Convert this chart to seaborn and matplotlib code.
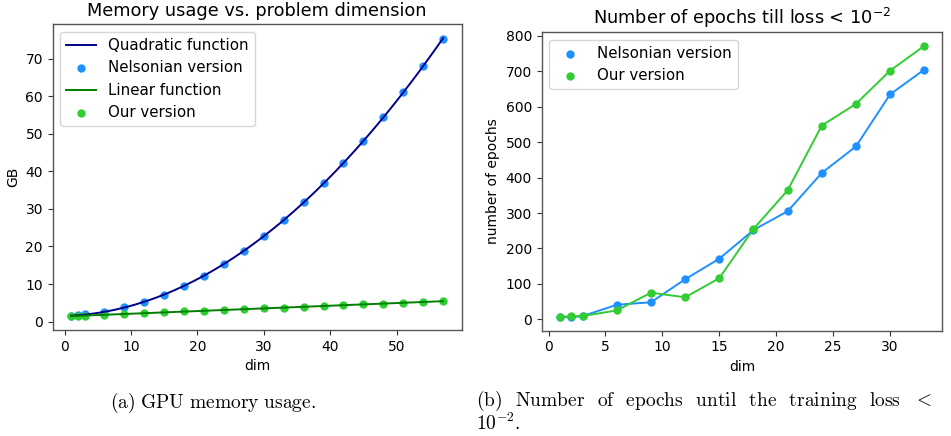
import numpy as np
import pandas as pd
import matplotlib
matplotlib.use("Agg")
import matplotlib.pyplot as plt
import seaborn as sns

# Datos
dims_mem = [1, 2, 3, 6, 9, 12, 15, 18, 21, 24, 27, 30, 33, 36, 39, 42, 45, 48, 51, 54, 57]
gb_nelson = [1.6, 1.7, 1.9, 2.6, 3.8, 5.3, 7.2, 9.5, 12.2, 15.3, 18.8, 22.7, 27.0, 31.7, 36.8, 42.3, 48.1, 54.4, 61.0, 67.9, 75.3]
gb_ours = [1.5, 1.5, 1.6, 1.8, 2.0, 2.3, 2.5, 2.7, 2.9, 3.1, 3.3, 3.5, 3.7, 3.9, 4.1, 4.4, 4.6, 4.8, 5.0, 5.2, 5.5]

dims_ep = [1, 2, 3, 6, 9, 12, 15, 18, 21, 24, 27, 30, 33]
ep_nelson = [7, 6, 9, 41, 48, 113, 171, 252, 305, 413, 488, 635, 705]
ep_ours = [6, 9, 9, 25, 75, 62, 116, 255, 364, 547, 608, 702, 772]

df_mem = pd.DataFrame({'dim': dims_mem, 'nelson': gb_nelson, 'ours': gb_ours})
df_ep = pd.DataFrame({'dim': dims_ep, 'nelson': ep_nelson, 'ours': ep_ours})

c_blue = '#1e90ff'
c_green = '#32cd32'

fig = plt.figure(figsize=(9.51, 4.36), dpi=100)
ax1 = fig.add_axes([0.0554, 0.2431, 0.4300, 0.7011])
ax2 = fig.add_axes([0.5696, 0.2415, 0.4214, 0.6844])

for ax in (ax1, ax2):
    for s in ax.spines.values():
        s.set_color('#555555')
        s.set_linewidth(1.0)
    ax.tick_params(labelsize=10, color='#333333')

# (a) memoria
sns.regplot(data=df_mem, x='dim', y='nelson', order=2, ci=None, scatter=False,
            ax=ax1, label='Quadratic function', line_kws={'color': 'darkblue', 'lw': 1.4})
sns.scatterplot(data=df_mem, x='dim', y='nelson', ax=ax1, color=c_blue, s=36,
                linewidth=0, label='Nelsonian version', zorder=1)
sns.regplot(data=df_mem, x='dim', y='ours', order=1, ci=None, scatter=False,
            ax=ax1, label='Linear function', line_kws={'color': 'green', 'lw': 1.4, 'zorder': 3})
sns.scatterplot(data=df_mem, x='dim', y='ours', ax=ax1, color=c_green, s=36,
                linewidth=0, label='Our version', zorder=1)
ax1.set_title('Memory usage vs. problem dimension', fontsize=12.8)
ax1.set_xlabel('dim', fontsize=10)
ax1.set_ylabel('GB', fontsize=10)
ax1.legend(loc='upper left', fontsize=10.8)

# (b) epocas
sns.lineplot(data=df_ep, x='dim', y='nelson', ax=ax2, color=c_blue, lw=1.4)
sns.lineplot(data=df_ep, x='dim', y='ours', ax=ax2, color=c_green, lw=1.4)
sns.scatterplot(data=df_ep, x='dim', y='nelson', ax=ax2, color=c_blue, s=36,
                linewidth=0, label='Nelsonian version', zorder=3)
sns.scatterplot(data=df_ep, x='dim', y='ours', ax=ax2, color=c_green, s=36,
                linewidth=0, label='Our version', zorder=3)
ax2.set_title(r'Number of epochs till loss < $10^{-2}$', fontsize=12.8)
ax2.set_xlabel('dim', fontsize=10)
ax2.set_ylabel('number of epochs', fontsize=10)
ax2.set_xticks([0, 5, 10, 15, 20, 25, 30])
ax2.legend(loc='upper left', fontsize=10.8)

# Leyendas tipo LaTeX (linea justificada: espacios mas anchos)
gap = r'\ \;\,'
words_b = ['(b)', 'Number', 'of', 'epochs', 'until', 'the', 'training', 'loss']
cap_b = r'$\mathrm{' + gap.join(words_b) + '}' + gap + '<$'
fig.text(0.224, 0.075, r'$\mathrm{(a)\ GPU\ memory\ usage.}$',
         math_fontfamily='cm', fontsize=14, ha='center', va='center')
fig.text(0.500, 0.080, cap_b, math_fontfamily='cm', fontsize=14,
         ha='left', va='center')
fig.text(0.500, 0.030, r'$10^{-2}.$', math_fontfamily='cm', fontsize=14,
         ha='left', va='center')

fig.savefig('out.png', dpi=100)
